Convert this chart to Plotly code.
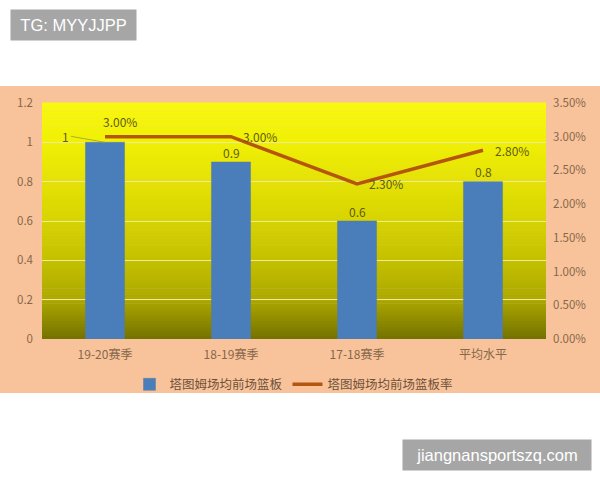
import plotly.graph_objects as go

# chart data
seasons = ["19-20赛季", "18-19赛季", "17-18赛季", "平均水平"]
rebounds = [1, 0.9, 0.6, 0.8]
rebound_rate = [0.030, 0.030, 0.023, 0.028]
bar_name = "塔图姆场均前场篮板"
line_name = "塔图姆场均前场篮板率"

FONT = "Noto Sans CJK SC, Noto Sans, sans-serif"
TICK_COLOR = "#86674a"
LABEL_COLOR = "#625c10"
PEACH = "#f8c39b"


def lerp_color(stops, t):
    # stops: list of (pos, (r, g, b)) sorted by pos
    for (p0, c0), (p1, c1) in zip(stops[:-1], stops[1:]):
        if p0 <= t <= p1:
            f = (t - p0) / (p1 - p0) if p1 > p0 else 0
            rgb = [round(a + (b - a) * f) for a, b in zip(c0, c1)]
            return "rgb({},{},{})".format(*rgb)
    return "rgb({},{},{})".format(*stops[-1][1])


# vertical gradient for the plot area (0 = bottom, 1 = top)
grad_stops = [
    (0.0, (0x74, 0x72, 0x00)),
    (0.167, (0xac, 0xa8, 0x00)),
    (0.333, (0xc4, 0xc0, 0x00)),
    (0.5, (0xd6, 0xd3, 0x02)),
    (0.667, (0xe4, 0xe2, 0x04)),
    (0.833, (0xf0, 0xef, 0x06)),
    (1.0, (0xf8, 0xf8, 0x10)),
]

fig = go.Figure()

fig.add_trace(
    go.Bar(
        x=seasons,
        y=rebounds,
        name=bar_name,
        marker=dict(color="#4a7ebb", line=dict(color="#5a7a9a", width=0.5)),
        width=0.31,
    )
)

fig.add_trace(
    go.Scatter(
        x=seasons,
        y=rebound_rate,
        name=line_name,
        mode="lines",
        line=dict(color="#b5560e", width=3.5),
        yaxis="y2",
    )
)

shapes = []
# peach panel behind the whole chart
shapes.append(
    dict(
        type="rect", xref="paper", yref="paper",
        x0=-0.09, x1=1.11, y0=-0.229, y1=1.072,
        fillcolor=PEACH, line=dict(width=0), layer="below",
    )
)
n_bands = 80
for i in range(n_bands):
    t = (i + 0.5) / n_bands
    shapes.append(
        dict(
            type="rect", xref="x domain", yref="y domain",
            x0=0, x1=1, y0=i / n_bands, y1=(i + 1) / n_bands + 0.002,
            fillcolor=lerp_color(grad_stops, t), line=dict(width=0), layer="below",
        )
    )

annotations = []
# bar value labels
for i, (s, v) in enumerate(zip(seasons, rebounds)):
    if i == 0:
        annotations.append(
            dict(
                x=s, y=v, text=f"{v:g}", showarrow=True, arrowhead=0,
                arrowwidth=0.8, arrowcolor="#9a9a40", ax=-34, ay=-6,
                font=dict(size=12, color=LABEL_COLOR, family=FONT),
                xanchor="right",
            )
        )
    else:
        annotations.append(
            dict(
                x=s, y=v, text=f"{v:g}", showarrow=False, yshift=10,
                font=dict(size=12, color=LABEL_COLOR, family=FONT),
            )
        )
# line value labels
for i, (s, r) in enumerate(zip(seasons, rebound_rate)):
    if i == 0:
        annotations.append(
            dict(
                x=s, y=r, yref="y2", text=f"{r:.2%}", showarrow=False,
                xshift=15, yshift=15,
                font=dict(size=12, color=LABEL_COLOR, family=FONT),
            )
        )
    else:
        annotations.append(
            dict(
                x=s, y=r, yref="y2", text=f"{r:.2%}", showarrow=False,
                xanchor="left", xshift=10, yshift=0,
                font=dict(size=12, color=LABEL_COLOR, family=FONT),
            )
        )

# watermark boxes
annotations.append(
    dict(
        xref="paper", yref="paper", x=-0.0635, y=1.331, xanchor="left", yanchor="middle",
        text="TG: MYYJJPP", showarrow=False, bgcolor="#a6a6a6",
        font=dict(size=16.5, color="white", family="Liberation Sans, Arial"),
        borderpad=0, width=125, height=30,
    )
)
annotations.append(
    dict(
        xref="paper", yref="paper", x=0.714, y=-0.4915, xanchor="left", yanchor="middle",
        text="jiangnansportszq.com", showarrow=False, bgcolor="#a6a6a6",
        font=dict(size=16.5, color="white", family="Liberation Sans, Arial"),
        borderpad=0, width=188, height=30,
    )
)

fig.update_layout(
    width=600,
    height=480,
    margin=dict(l=42, r=54, t=103, b=141),
    paper_bgcolor="white",
    plot_bgcolor="rgba(0,0,0,0)",
    font=dict(family=FONT, color=TICK_COLOR, size=11),
    shapes=shapes,
    annotations=annotations,
    bargap=0.69,
    showlegend=True,
    legend=dict(
        orientation="h", x=0.5, xanchor="center", y=-0.13, yanchor="top",
        font=dict(size=12.5, color="#6e5038"), bgcolor="rgba(0,0,0,0)",
        itemwidth=30, tracegroupgap=0,
    ),
    xaxis=dict(
        showgrid=False, showline=False, ticks="", ticklabelstandoff=7,
        tickfont=dict(size=12, color=TICK_COLOR),
    ),
    yaxis=dict(
        range=[0, 1.2], dtick=0.2, showgrid=True, gridcolor="#eeeb96", gridwidth=1,
        zeroline=False, ticks="", ticklabelstandoff=8,
        tickfont=dict(size=11.5, color=TICK_COLOR), tickformat="~g",
    ),
    yaxis2=dict(
        overlaying="y", side="right", range=[0, 0.035], dtick=0.005, tickformat=".2%",
        showgrid=False, zeroline=False, ticks="", ticklabelstandoff=6,
        tickfont=dict(size=11.5, color=TICK_COLOR),
    ),
)

fig.write_html(
    "out.html",
    config={"displayModeBar": False},
    post_script="document.body.style.margin='0';",
)
